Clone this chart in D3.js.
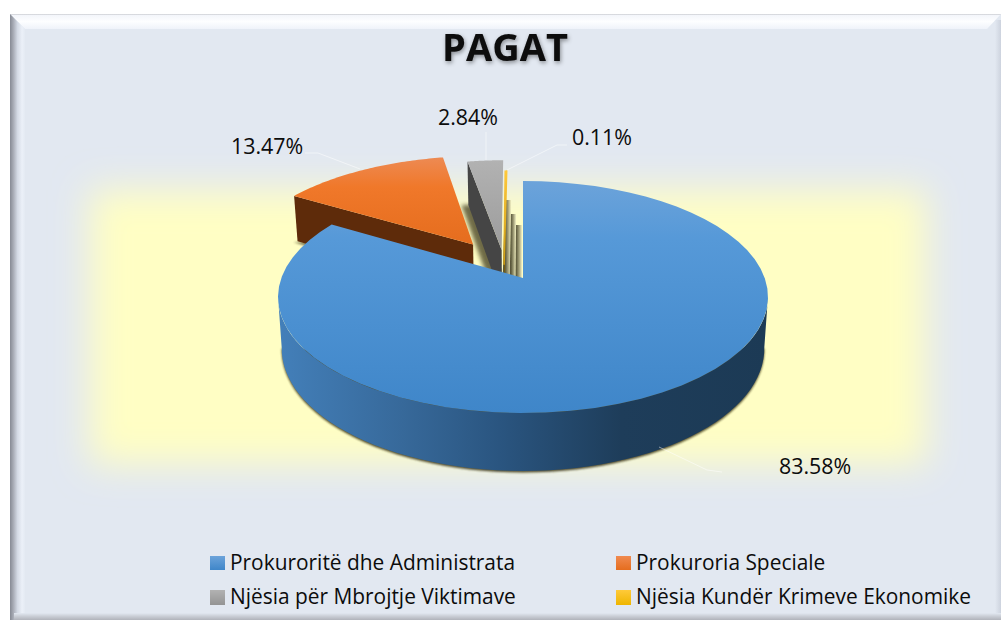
<!DOCTYPE html>
<html><head><meta charset="utf-8">
<script src="https://cdn.jsdelivr.net/npm/d3@7"></script>
<style>html,body{margin:0;padding:0;background:#fff;overflow:hidden}svg{display:block}text{font-family:"Open Sans",sans-serif;fill:#0c0c0c}</style>
</head><body><svg id="c" width="1002" height="620"></svg>
<script>
const categories=["Prokuroritë dhe Administrata","Prokuroria Speciale","Njësia për Mbrojtje Viktimave","Njësia Kundër Krimeve Ekonomike"];
const values=[83.58,13.47,2.84,0.11];
const valueLabels=["83.58%","13.47%","2.84%","0.11%"];
const titleText="PAGAT";

const W=1002,H=620;
const svg=d3.select("#c"),defs=svg.append("defs");
const CX=523,CY=278,F=241.7,G=112.9,K=0.164,DEPTH=50.1,SHRINK=0.985;
const explode=[[0,0],[-.217,-.312],[-.092,-.2585],[-.08,-.12]];

function grad(id,x1,y1,x2,y2,stops){
  const g=defs.append("linearGradient").attr("id",id).attr("gradientUnits","userSpaceOnUse")
    .attr("x1",x1).attr("y1",y1).attr("x2",x2).attr("y2",y2);
  stops.forEach(s=>g.append("stop").attr("offset",s[0]).attr("stop-color",s[1]));
}
function blur(id,sd){defs.append("filter").attr("id",id).attr("x","-40%").attr("y","-40%").attr("width","180%").attr("height","180%")
  .append("feGaussianBlur").attr("stdDeviation",sd);}
blur("b05",.7);blur("b1",1.3);blur("b2",2);blur("glow",18);

grad("fLeft",10,0,25,0,[[0,"#868a94"],[.2,"#a4a8b2"],[.5,"#d4dae5"],[.8,"#ebf0f8"],[1,"#e4eaf3"]]);
grad("fTop",0,14,0,29,[[0,"#c9cbd0"],[.1,"#f4f6fb"],[.5,"#fdfeff"],[1,"#eff3fa"]]);
grad("fRight",995,0,1001,0,[[0,"#e2e8f1"],[1,"#cdd3de"]]);
grad("fBot",0,613,0,620,[[0,"#e2e8f1"],[.5,"#c8ccd4"],[1,"#b0b3ba"]]);
grad("top0",0,181,0,413,[[0,"#6ca3da"],[.25,"#5699d8"],[1,"#3f86c9"]]);
grad("top1",0,156,0,244,[[0,"#ed8b55"],[.35,"#f0782a"],[1,"#e56d1e"]]);
grad("top2",0,160,0,270,[[0,"#b2b2b2"],[1,"#979797"]]);
grad("top3",0,171,0,270,[[0,"#ffc83a"],[1,"#c99a10"]]);
grad("wall0",280,0,768,0,[[0,"#437fb9"],[.25,"#37699a"],[.45,"#2a5580"],[.7,"#1e3d5a"],[1,"#1c3a55"]]);
grad("lg0",0,556,0,570,[[0,"#6ca3da"],[1,"#3f86c9"]]);
grad("lg1",0,556,0,570,[[0,"#f08a50"],[1,"#e56d1e"]]);
grad("lg2",0,590,0,605,[[0,"#b2b2b2"],[1,"#949494"]]);
grad("lg3",0,590,0,605,[[0,"#ffca3a"],[1,"#eeb500"]]);

// frame
svg.append("rect").attr("x",10).attr("y",14).attr("width",991).attr("height",606).attr("fill","#e2e8f1");
const poly=d3.line();
svg.append("path").attr("d",poly([[10,14],[1001,14],[987,29],[25,29]])+"Z").attr("fill","url(#fTop)");
svg.append("path").attr("d",poly([[10,14],[25,29],[25,620],[10,620]])+"Z").attr("fill","url(#fLeft)");
svg.append("rect").attr("x",995).attr("y",20).attr("width",6).attr("height",600).attr("fill","url(#fRight)");
svg.append("rect").attr("x",14).attr("y",613).attr("width",987).attr("height",7).attr("fill","url(#fBot)");

// glow
svg.append("rect").attr("x",90).attr("y",190).attr("width",836).attr("height",274).attr("fill","#fffec4").attr("filter","url(#glow)");

const arcs=d3.pie().sort(null).value(d=>d)(values);
// plane -> screen
function P(u,v,low){
  const w=1-K*v;
  return low?[CX+SHRINK*F*u/w,CY+(SHRINK*G*v+DEPTH)/w]:[CX+F*u/w,CY+G*v/w];
}
function rim(a,i,low){const e=explode[i];return P(Math.sin(a)+e[0],-Math.cos(a)+e[1],low);}
function apex(i,low){const e=explode[i];return P(e[0],e[1],low);}
function angles(a0,a1){return d3.range(0,61).map(k=>a0+(a1-a0)*k/60);}
function topPath(i){return poly([apex(i,false),...angles(arcs[i].startAngle,arcs[i].endAngle).map(a=>rim(a,i,false))])+"Z";}
function faceStart(i){const a=arcs[i].startAngle;return poly([rim(a,i,false),apex(i,false),apex(i,true),rim(a,i,true)])+"Z";}
function edgeShadow(i,dl,dr){
  const r=rim(arcs[i].startAngle,i,true),a=apex(i,true);
  return poly([[r[0]+dl,r[1]],[a[0]+dl,a[1]],[a[0]+dr,a[1]],[r[0]+dr,r[1]]])+"Z";
}
const blueWallAngles=angles(Math.PI*0.55,Math.PI*1.45);
const blueWall=poly([...blueWallAngles.map(a=>rim(a,0,false)),...blueWallAngles.slice().reverse().map(a=>rim(a,0,true))])+"Z";
const blueShadow=poly(blueWallAngles.map(a=>rim(a,0,true)))+"Z";

const shade="#3f3a1c";
svg.append("path").attr("d",edgeShadow(1,-4,8)).attr("fill",shade).attr("opacity",.7).attr("filter","url(#b1)").attr("transform","translate(0,1)");
svg.append("path").attr("d",edgeShadow(2,-7,6)).attr("fill",shade).attr("opacity",.75).attr("filter","url(#b2)");

// stepped shadows behind the thin slices, given in plane coordinates
const steps=[[-.084,-.78,-.055],[-.055,-.625,-.031],[-.031,-.509,-.004]];
steps.forEach((s,k)=>{
  const a=P(s[0],s[1]),b=P(s[2],s[1]),c=P(s[2],0),d=P(s[0],0);
  const id="st"+k;
  grad(id,a[0],0,b[0],0,[[0,"#5a573a"],[.5,"#a3a07a"],[1,"#f7f5c8"]]);
  svg.append("path").attr("d",poly([a,b,c,d])+"Z").attr("fill","url(#"+id+")").attr("filter","url(#b05)");
});

// blue shadow
svg.append("path").attr("d",blueShadow).attr("fill",shade).attr("opacity",.9).attr("filter","url(#b1)").attr("transform","translate(0,1.5)");

const walls=["","#5e2b0a","#454545","#7f6000"];
[1,2,3].forEach(i=>{
  svg.append("path").attr("d",faceStart(i)).attr("fill",walls[i]);
});
[1,2,3].forEach(i=>{
  const p=svg.append("path").attr("d",topPath(i)).attr("fill","url(#top"+i+")");
  if(i===3)p.attr("stroke","url(#top3)").attr("stroke-width",1.6);
});
svg.append("path").attr("d",blueWall).attr("fill","url(#wall0)");
svg.append("path").attr("d",topPath(0)).attr("fill","url(#top0)");

// leader lines
const leaders=[[[659,447],[707,470],[722,472]],[[305,153],[318,153],[360,169]],[[486,132],[486,160]],[[507,170],[557,145],[567,145]]];
leaders.forEach(l=>svg.append("path").attr("d",poly(l)).attr("fill","none").attr("stroke","#fff").attr("stroke-opacity",.5).attr("stroke-width",1));

// labels
const labelPos=[[779,474],[231,154],[438,125],[572,145]];
valueLabels.forEach((t,i)=>svg.append("text").attr("x",labelPos[i][0]).attr("y",labelPos[i][1]).attr("font-size",21.4).text(t));

// title
defs.append("filter").attr("id","ts").attr("x","-20%").attr("y","-30%").attr("width","140%").attr("height","160%")
  .append("feDropShadow").attr("dx",1).attr("dy",2).attr("stdDeviation",2).attr("flood-color","#000").attr("flood-opacity",.4);
svg.append("text").attr("x",505).attr("y",61).attr("text-anchor","middle").attr("font-size",38).attr("font-weight",700)
  .attr("filter","url(#ts)").style("fill","#0a0a0a").text(titleText);

// legend
const legX=[210,616],legY=[556,590];
categories.forEach((c,i)=>{
  const x=legX[i%2],y=legY[Math.floor(i/2)];
  svg.append("rect").attr("x",x).attr("y",y).attr("width",15).attr("height",i>1?15:14).attr("fill","url(#lg"+i+")");
  svg.append("text").attr("x",x+20).attr("y",y+14).attr("font-size",20.9).text(c);
});
</script></body></html>
